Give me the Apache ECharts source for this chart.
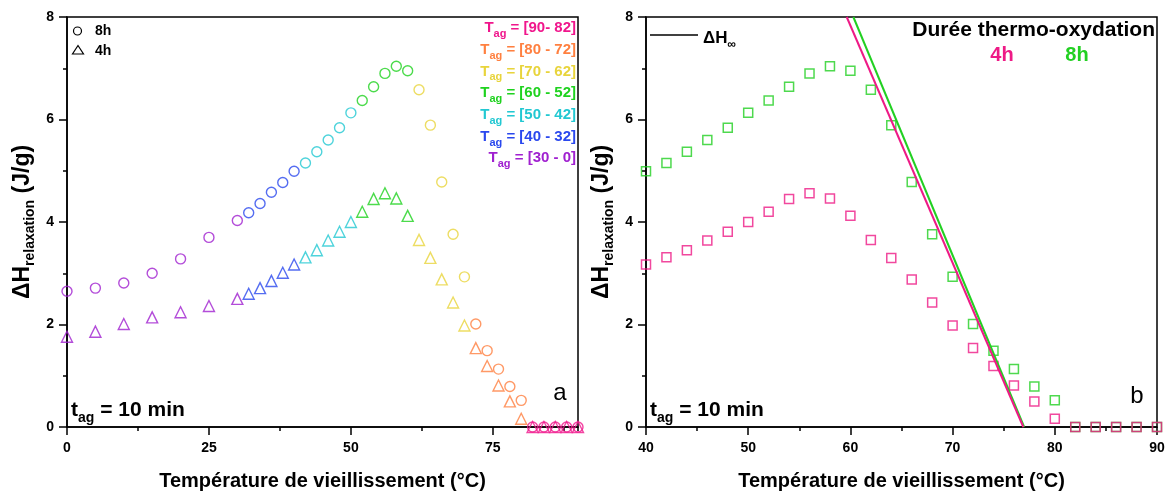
<!DOCTYPE html>
<html>
<head>
<meta charset="utf-8">
<script src="https://cdn.jsdelivr.net/npm/echarts@6/dist/echarts.min.js"></script>
<style>
html,body{margin:0;padding:0;background:#fff;}
#chart{width:1168px;height:495px;}
</style>
</head>
<body>
<div id="chart"></div>
<script>
// ---- data ----
const temps = [0,5,10,15,20,25,30,32,34,36,38,40,42,44,46,48,50,52,54,56,58,60,62,64,66,68,70,72,74,76,78,80,82,84,86,88,90];
const dH8h = [2.65,2.71,2.81,3.00,3.28,3.70,4.03,4.18,4.36,4.58,4.77,4.99,5.15,5.37,5.60,5.84,6.13,6.37,6.64,6.90,7.04,6.95,6.58,5.89,4.78,3.76,2.93,2.01,1.49,1.13,0.79,0.52,0,0,0,0,0];
const dH4h = [1.76,1.86,2.01,2.14,2.24,2.36,2.50,2.60,2.71,2.85,3.01,3.17,3.31,3.45,3.64,3.81,4.00,4.20,4.45,4.56,4.46,4.12,3.65,3.30,2.88,2.43,1.98,1.54,1.19,0.81,0.50,0.16,0,0,0,0,0];
const tagLabels = ['[90- 82]','[80 - 72]','[70 - 62]','[60 - 52]','[50 - 42]','[40 - 32]','[30 - 0]'];
const tagLow = [82,72,62,52,42,32,0];
const tagColors = ['#f0168c','#ff8040','#e8d43c','#1fd21f','#22c8d2','#2a48ee','#a020d0'];
const dHinf4h = [[59.64,8],[76.92,0]];
const dHinf8h = [[60.29,8],[77.0,0]];
const xTicksLeft = [0,90,25];
const xTicksRight = [40,90,10];
const yTicks = [0,8,2];

// ---- style ----
const PINK = '#ee1a86', GREEN = '#22d022';
const FF = '"Liberation Sans", Arial, sans-serif';
function colorFor(t){ for(let i=0;i<tagLow.length;i++){ if(t>=tagLow[i]) return tagColors[i]; } return tagColors[tagColors.length-1]; }

const chart = echarts.init(document.getElementById('chart'), null, {renderer:'canvas'});

const axisLabelStyle = {color:'#000', fontFamily:FF, fontWeight:'bold', fontSize:14};
const nameRich = {
  a:{fontFamily:FF, fontWeight:'bold', fontSize:23, color:'#000', lineHeight:24, verticalAlign:'top'},
  s:{fontFamily:FF, fontWeight:'bold', fontSize:14, color:'#000', lineHeight:14, padding:[12,0,0,0], verticalAlign:'top'}
};
function yAxisDef(grid){
  return {
    gridIndex:grid, type:'value', min:yTicks[0], max:yTicks[1], interval:yTicks[2],
    axisLine:{show:true, lineStyle:{color:'#000', width:1.5}},
    axisTick:{show:true, length:8, lineStyle:{color:'#000', width:1.5}},
    minorTick:{show:true, splitNumber:2, length:4, lineStyle:{color:'#000', width:1.5}},
    axisLabel:Object.assign({margin:13}, axisLabelStyle),
    splitLine:{show:false}, minorSplitLine:{show:false},
    name:'{a|ΔH}{s|relaxation}{a| (J/g)}', nameLocation:'middle', nameGap:32,
    nameTextStyle:{rich:nameRich}
  };
}
const xName = 'Température de vieillissement (°C)';
const xNameStyle = {color:'#000', fontFamily:FF, fontWeight:'bold', fontSize:20};

function scatterData(ys, colorFn){
  const out=[];
  for(let i=0;i<temps.length;i++){
    out.push({value:[temps[i], ys[i]], itemStyle:{borderColor:colorFn(temps[i])}});
  }
  return out;
}
function scatterDataRange(ys, minT, c){
  const out=[];
  for(let i=0;i<temps.length;i++){
    if(temps[i]>=minT) out.push({value:[temps[i], ys[i]], itemStyle:{borderColor:c}});
  }
  return out;
}

function richText(x, y, main, sub, rest, color, size, subSize, align){
  return {
    type:'text', x:x, y:y, z:100,
    style:{
      text:'{m|'+main+'}{s|'+sub+'}{m|'+rest+'}',
      align:align||'left', verticalAlign:'middle',
      rich:{
        m:{fontFamily:FF, fontWeight:'bold', fontSize:size, fill:color, lineHeight:size+2, verticalAlign:'top'},
        s:{fontFamily:FF, fontWeight:'bold', fontSize:subSize, fill:color, lineHeight:subSize, padding:[Math.round(size*0.55),0,0,0], verticalAlign:'top'}
      }
    }
  };
}

const graphics = [];
// left legend
graphics.push({type:'circle', z:100, shape:{cx:77.5, cy:31, r:4}, style:{fill:'none', stroke:'#000', lineWidth:1.2}});
graphics.push({type:'polygon', z:100, shape:{points:[[78,45.5],[72.5,54],[83.5,54]]}, style:{fill:'none', stroke:'#000', lineWidth:1.2}});
graphics.push({type:'text', z:100, x:95, y:31, style:{text:'8h', fill:'#000', font:'bold 14px '+FF, verticalAlign:'middle'}});
graphics.push({type:'text', z:100, x:95, y:51, style:{text:'4h', fill:'#000', font:'bold 14px '+FF, verticalAlign:'middle'}});
// Tag legend
for(let i=0;i<tagLabels.length;i++){
  graphics.push(richText(576, 29+21.7*i, 'T', 'ag', ' = '+tagLabels[i], tagColors[i], 15, 11, 'right'));
}
// t_ag annotations
graphics.push(richText(71, 411, 't', 'ag', ' = 10 min', '#000', 21, 14, 'left'));
graphics.push(richText(650, 411, 't', 'ag', ' = 10 min', '#000', 21, 14, 'left'));
graphics.push({type:'text', z:100, x:560, y:393, style:{text:'a', fill:'#000', font:'24px '+FF, align:'center', verticalAlign:'middle'}});
graphics.push({type:'text', z:100, x:1137, y:396, style:{text:'b', fill:'#000', font:'24px '+FF, align:'center', verticalAlign:'middle'}});
// right legend
graphics.push({type:'line', z:100, shape:{x1:650, y1:35, x2:698, y2:35}, style:{stroke:'#000', lineWidth:1.5}});
graphics.push(richText(703, 39, 'ΔH', '∞', '', '#000', 17, 12, 'left'));
graphics.push({type:'text', z:100, x:1155, y:30, style:{text:'Durée thermo-oxydation', fill:'#000', font:'bold 21px '+FF, align:'right', verticalAlign:'middle'}});
graphics.push({type:'text', z:100, x:1002, y:55, style:{text:'4h', fill:PINK, font:'bold 20px '+FF, align:'center', verticalAlign:'middle'}});
graphics.push({type:'text', z:100, x:1077, y:55, style:{text:'8h', fill:GREEN, font:'bold 20px '+FF, align:'center', verticalAlign:'middle'}});

const option = {
  animation:false,
  backgroundColor:'#fff',
  grid:[
    {left:67, top:17, width:511, height:410, show:true, borderColor:'#000', borderWidth:1.5, backgroundColor:'transparent', outerBoundsMode:'none', containLabel:false},
    {left:646, top:17, width:511, height:410, show:true, borderColor:'#000', borderWidth:1.5, backgroundColor:'transparent', outerBoundsMode:'none', containLabel:false}
  ],
  xAxis:[
    {gridIndex:0, type:'value', position:'bottom', min:xTicksLeft[0], max:xTicksLeft[1], interval:xTicksLeft[2],
     axisLine:{show:true, onZero:false, lineStyle:{color:'#000', width:1.5}},
     axisTick:{show:true, length:8, lineStyle:{color:'#000', width:1.5}},
     axisLabel:Object.assign({margin:14, showMaxLabel:false}, axisLabelStyle),
     splitLine:{show:false},
     name:xName, nameLocation:'middle', nameGap:44, nameTextStyle:xNameStyle},
    {gridIndex:0, type:'value', position:'bottom', min:xTicksLeft[0], max:xTicksLeft[1], interval:xTicksLeft[2]/2,
     axisLine:{show:false, onZero:false}, axisTick:{show:true, length:4, lineStyle:{color:'#000', width:1.5}},
     axisLabel:{show:false}, splitLine:{show:false}},
    {gridIndex:1, type:'value', position:'bottom', min:xTicksRight[0], max:xTicksRight[1], interval:xTicksRight[2],
     axisLine:{show:true, onZero:false, lineStyle:{color:'#000', width:1.5}},
     axisTick:{show:true, length:8, lineStyle:{color:'#000', width:1.5}},
     minorTick:{show:true, splitNumber:2, length:4, lineStyle:{color:'#000', width:1.5}},
     axisLabel:Object.assign({margin:14}, axisLabelStyle),
     splitLine:{show:false}, minorSplitLine:{show:false},
     name:xName, nameLocation:'middle', nameGap:44, nameTextStyle:xNameStyle}
  ],
  yAxis:[yAxisDef(0), yAxisDef(1)],
  series:[
    {name:'8h', type:'scatter', xAxisIndex:0, yAxisIndex:0, symbol:'circle', symbolSize:10,
     itemStyle:{color:'rgba(255,255,255,0)', borderWidth:1.4}, data:scatterData(dH8h, colorFor)},
    {name:'4h', type:'scatter', xAxisIndex:0, yAxisIndex:0, symbol:'triangle', symbolSize:11,
     itemStyle:{color:'rgba(255,255,255,0)', borderWidth:1.4}, data:scatterData(dH4h, colorFor)},
    {name:'8h b', type:'scatter', xAxisIndex:2, yAxisIndex:1, symbol:'rect', symbolSize:9,
     itemStyle:{color:'rgba(255,255,255,0)', borderWidth:1.5}, data:scatterDataRange(dH8h, xTicksRight[0], GREEN)},
    {name:'4h b', type:'scatter', xAxisIndex:2, yAxisIndex:1, symbol:'rect', symbolSize:9,
     itemStyle:{color:'rgba(255,255,255,0)', borderWidth:1.5}, data:scatterDataRange(dH4h, xTicksRight[0], PINK)},
    {name:'ΔH∞ 8h', type:'line', xAxisIndex:2, yAxisIndex:1, showSymbol:false, symbol:'none',
     lineStyle:{color:GREEN, width:2}, data:dHinf8h, z:3},
    {name:'ΔH∞ 4h', type:'line', xAxisIndex:2, yAxisIndex:1, showSymbol:false, symbol:'none',
     lineStyle:{color:PINK, width:2}, data:dHinf4h, z:3}
  ],
  graphic:graphics
};
chart.setOption(option);
</script>
</body>
</html>
